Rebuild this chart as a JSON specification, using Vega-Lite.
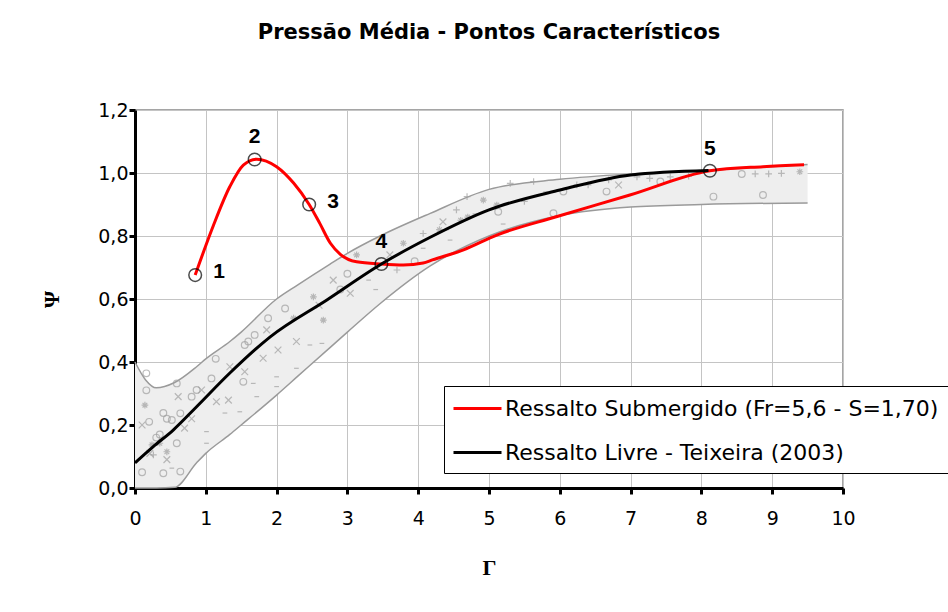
{
  "$schema": "https://vega.github.io/schema/vega-lite/v6.json",
  "width": 708,
  "height": 378,
  "autosize": {"type": "none"},
  "padding": {"left": 135, "top": 110, "right": 105, "bottom": 124},
  "background": "white",
  "title": {
    "text": "Pressão Média - Pontos Característicos",
    "font": "DejaVu Sans",
    "fontSize": 21,
    "fontWeight": "bold",
    "color": "black",
    "frame": "group",
    "anchor": "middle",
    "offset": 58
  },
  "config": {
    "view": {"stroke": "#888888", "strokeWidth": 1.5},
    "axis": {
      "domainColor": "black",
      "domainWidth": 3,
      "tickColor": "black",
      "tickWidth": 3,
      "tickSize": 6,
      "gridColor": "#c4c4c4",
      "gridWidth": 1,
      "labelFont": "DejaVu Sans",
      "labelFontSize": 19,
      "labelColor": "black",
      "labelFlush": false,
      "labelOverlap": false,
      "titleFont": "Liberation Serif",
      "titleFontWeight": "bold",
      "titleFontSize": 22,
      "titleColor": "black"
    },
    "legend": {
      "orient": "none",
      "legendX": 309,
      "legendY": 276,
      "fillColor": "white",
      "strokeColor": "black",
      "padding": 9,
      "symbolType": "M-2,0H2",
      "symbolSize": 576,
      "symbolOffset": 11,
      "symbolStrokeWidth": 3,
      "symbolFillColor": "transparent",
      "labelFont": "DejaVu Sans",
      "labelFontSize": 22,
      "labelColor": "black",
      "labelOffset": 14,
      "labelLimit": 1000,
      "rowPadding": 19
    }
  },
  "datasets": {
    "band": [
      {"x": 0, "y": 0, "hi": 0.40},
      {"x": 0.15, "y": 0, "hi": 0.343},
      {"x": 0.3, "y": 0, "hi": 0.318},
      {"x": 0.56, "y": 0.002, "hi": 0.335},
      {"x": 0.87, "y": 0.08, "hi": 0.385},
      {"x": 1.0, "y": 0.11, "hi": 0.41},
      {"x": 1.34, "y": 0.17, "hi": 0.465},
      {"x": 1.5, "y": 0.2, "hi": 0.495},
      {"x": 2.0, "y": 0.295, "hi": 0.6},
      {"x": 2.3, "y": 0.355, "hi": 0.645},
      {"x": 2.75, "y": 0.445, "hi": 0.71},
      {"x": 3.0, "y": 0.495, "hi": 0.745},
      {"x": 3.46, "y": 0.585, "hi": 0.8},
      {"x": 4.17, "y": 0.705, "hi": 0.872},
      {"x": 5.0, "y": 0.8, "hi": 0.948},
      {"x": 6.0, "y": 0.865, "hi": 0.98},
      {"x": 7.0, "y": 0.892, "hi": 0.997},
      {"x": 8.0, "y": 0.9, "hi": 1.007},
      {"x": 9.5, "y": 0.905, "hi": 1.027}
    ],
    "lines": [
      {"serie": "Ressalto Submergido (Fr=5,6 - S=1,70)", "x": 0.85, "y": 0.676},
      {"serie": "Ressalto Submergido (Fr=5,6 - S=1,70)", "x": 1.11, "y": 0.835},
      {"serie": "Ressalto Submergido (Fr=5,6 - S=1,70)", "x": 1.34, "y": 0.957},
      {"serie": "Ressalto Submergido (Fr=5,6 - S=1,70)", "x": 1.53, "y": 1.025},
      {"serie": "Ressalto Submergido (Fr=5,6 - S=1,70)", "x": 1.72, "y": 1.044},
      {"serie": "Ressalto Submergido (Fr=5,6 - S=1,70)", "x": 2.0, "y": 1.02},
      {"serie": "Ressalto Submergido (Fr=5,6 - S=1,70)", "x": 2.24, "y": 0.968},
      {"serie": "Ressalto Submergido (Fr=5,6 - S=1,70)", "x": 2.46, "y": 0.9},
      {"serie": "Ressalto Submergido (Fr=5,6 - S=1,70)", "x": 2.61, "y": 0.84},
      {"serie": "Ressalto Submergido (Fr=5,6 - S=1,70)", "x": 2.76, "y": 0.777},
      {"serie": "Ressalto Submergido (Fr=5,6 - S=1,70)", "x": 2.9, "y": 0.742},
      {"serie": "Ressalto Submergido (Fr=5,6 - S=1,70)", "x": 3.13, "y": 0.718},
      {"serie": "Ressalto Submergido (Fr=5,6 - S=1,70)", "x": 3.48, "y": 0.711},
      {"serie": "Ressalto Submergido (Fr=5,6 - S=1,70)", "x": 3.79, "y": 0.708},
      {"serie": "Ressalto Submergido (Fr=5,6 - S=1,70)", "x": 4.07, "y": 0.714},
      {"serie": "Ressalto Submergido (Fr=5,6 - S=1,70)", "x": 4.2, "y": 0.724},
      {"serie": "Ressalto Submergido (Fr=5,6 - S=1,70)", "x": 4.64, "y": 0.756},
      {"serie": "Ressalto Submergido (Fr=5,6 - S=1,70)", "x": 5.11, "y": 0.803},
      {"serie": "Ressalto Submergido (Fr=5,6 - S=1,70)", "x": 5.95, "y": 0.861},
      {"serie": "Ressalto Submergido (Fr=5,6 - S=1,70)", "x": 6.99, "y": 0.93},
      {"serie": "Ressalto Submergido (Fr=5,6 - S=1,70)", "x": 8.12, "y": 1.007},
      {"serie": "Ressalto Submergido (Fr=5,6 - S=1,70)", "x": 8.87, "y": 1.02},
      {"serie": "Ressalto Submergido (Fr=5,6 - S=1,70)", "x": 9.45, "y": 1.026},
      {"serie": "Ressalto Livre - Teixeira (2003)", "x": 0, "y": 0.08},
      {"serie": "Ressalto Livre - Teixeira (2003)", "x": 0.25, "y": 0.13},
      {"serie": "Ressalto Livre - Teixeira (2003)", "x": 0.54, "y": 0.184},
      {"serie": "Ressalto Livre - Teixeira (2003)", "x": 0.87, "y": 0.258},
      {"serie": "Ressalto Livre - Teixeira (2003)", "x": 1.34, "y": 0.365},
      {"serie": "Ressalto Livre - Teixeira (2003)", "x": 1.91, "y": 0.48},
      {"serie": "Ressalto Livre - Teixeira (2003)", "x": 2.71, "y": 0.597},
      {"serie": "Ressalto Livre - Teixeira (2003)", "x": 3.48, "y": 0.711},
      {"serie": "Ressalto Livre - Teixeira (2003)", "x": 4.17, "y": 0.796},
      {"serie": "Ressalto Livre - Teixeira (2003)", "x": 5.0, "y": 0.883},
      {"serie": "Ressalto Livre - Teixeira (2003)", "x": 6.0, "y": 0.946},
      {"serie": "Ressalto Livre - Teixeira (2003)", "x": 7.0, "y": 0.994},
      {"serie": "Ressalto Livre - Teixeira (2003)", "x": 8.1, "y": 1.008}
    ],
    "pts": [
      {"label": "1", "x": 0.85, "y": 0.676},
      {"label": "2", "x": 1.69, "y": 1.043},
      {"label": "3", "x": 2.46, "y": 0.9},
      {"label": "4", "x": 3.48, "y": 0.711},
      {"label": "5", "x": 8.12, "y": 1.007}
    ],
    "scatter": [
      {"x": 0.16, "y": 0.364, "m": "o"}, {"x": 0.16, "y": 0.31, "m": "o"}, {"x": 0.14, "y": 0.263, "m": "*"},
      {"x": 0.59, "y": 0.332, "m": "o"}, {"x": 0.61, "y": 0.29, "m": "x"}, {"x": 0.4, "y": 0.238, "m": "o"},
      {"x": 0.45, "y": 0.22, "m": "o"}, {"x": 0.52, "y": 0.216, "m": "o"}, {"x": 0.64, "y": 0.237, "m": "o"},
      {"x": 0.8, "y": 0.29, "m": "o"}, {"x": 0.87, "y": 0.311, "m": "o"}, {"x": 0.94, "y": 0.311, "m": "x"},
      {"x": 1.08, "y": 0.348, "m": "o"}, {"x": 1.14, "y": 0.41, "m": "o"}, {"x": 1.15, "y": 0.274, "m": "x"},
      {"x": 1.32, "y": 0.279, "m": "x"}, {"x": 1.34, "y": 0.385, "m": "x"}, {"x": 1.53, "y": 0.337, "m": "o"},
      {"x": 1.55, "y": 0.369, "m": "x"}, {"x": 1.55, "y": 0.454, "m": "o"}, {"x": 1.6, "y": 0.465, "m": "o"},
      {"x": 1.69, "y": 0.486, "m": "o"}, {"x": 1.81, "y": 0.412, "m": "x"}, {"x": 1.86, "y": 0.502, "m": "x"},
      {"x": 1.88, "y": 0.539, "m": "o"}, {"x": 2.24, "y": 0.539, "m": "*"}, {"x": 2.12, "y": 0.57, "m": "o"},
      {"x": 2.02, "y": 0.438, "m": "x"}, {"x": 2.28, "y": 0.465, "m": "x"}, {"x": 1.67, "y": 0.332, "m": "-"},
      {"x": 1.72, "y": 0.29, "m": "-"}, {"x": 1.27, "y": 0.238, "m": "-"}, {"x": 1.48, "y": 0.242, "m": "-"},
      {"x": 1.01, "y": 0.179, "m": "-"}, {"x": 1.01, "y": 0.142, "m": "-"}, {"x": 2.0, "y": 0.353, "m": "-"},
      {"x": 2.0, "y": 0.322, "m": "-"}, {"x": 2.28, "y": 0.38, "m": "-"}, {"x": 2.47, "y": 0.454, "m": "-"},
      {"x": 2.64, "y": 0.459, "m": "-"}, {"x": 2.52, "y": 0.607, "m": "*"}, {"x": 2.66, "y": 0.533, "m": "*"},
      {"x": 0.24, "y": 0.137, "m": "*"}, {"x": 0.35, "y": 0.142, "m": "*"}, {"x": 0.45, "y": 0.115, "m": "*"},
      {"x": 0.26, "y": 0.105, "m": "+"}, {"x": 0.4, "y": 0.047, "m": "o"}, {"x": 0.52, "y": 0.063, "m": "-"},
      {"x": 0.64, "y": 0.052, "m": "o"}, {"x": 0.59, "y": 0.142, "m": "o"}, {"x": 0.21, "y": 0.11, "m": "x"},
      {"x": 0.45, "y": 0.09, "m": "x"}, {"x": 0.35, "y": 0.17, "m": "o"}, {"x": 0.1, "y": 0.2, "m": "x"},
      {"x": 0.2, "y": 0.21, "m": "o"}, {"x": 0.7, "y": 0.19, "m": "x"}, {"x": 0.8, "y": 0.22, "m": "x"},
      {"x": 0.3, "y": 0.16, "m": "o"}, {"x": 0.1, "y": 0.05, "m": "o"},
      {"x": 2.8, "y": 0.66, "m": "x"}, {"x": 3.13, "y": 0.74, "m": "*"}, {"x": 3.04, "y": 0.618, "m": "x"},
      {"x": 3.7, "y": 0.692, "m": "+"}, {"x": 3.79, "y": 0.777, "m": "*"}, {"x": 4.07, "y": 0.808, "m": "+"},
      {"x": 4.07, "y": 0.761, "m": "-"}, {"x": 3.0, "y": 0.68, "m": "o"}, {"x": 2.9, "y": 0.63, "m": "o"},
      {"x": 3.3, "y": 0.66, "m": "-"}, {"x": 3.4, "y": 0.63, "m": "-"}, {"x": 3.6, "y": 0.74, "m": "x"},
      {"x": 2.6, "y": 0.58, "m": "x"}, {"x": 3.95, "y": 0.72, "m": "o"},
      {"x": 4.35, "y": 0.845, "m": "x"}, {"x": 4.54, "y": 0.883, "m": "+"}, {"x": 4.69, "y": 0.925, "m": "+"},
      {"x": 4.92, "y": 0.914, "m": "*"}, {"x": 5.11, "y": 0.898, "m": "*"}, {"x": 5.13, "y": 0.877, "m": "o"},
      {"x": 4.45, "y": 0.787, "m": "-"}, {"x": 5.2, "y": 0.838, "m": "-"}, {"x": 5.3, "y": 0.967, "m": "+"},
      {"x": 5.63, "y": 0.973, "m": "+"}, {"x": 6.05, "y": 0.941, "m": "o"}, {"x": 6.24, "y": 0.962, "m": "+"},
      {"x": 6.4, "y": 0.962, "m": "+"}, {"x": 6.66, "y": 0.941, "m": "o"}, {"x": 6.83, "y": 0.962, "m": "x"},
      {"x": 6.69, "y": 0.978, "m": "+"}, {"x": 7.09, "y": 0.988, "m": "+"}, {"x": 7.27, "y": 0.983, "m": "+"},
      {"x": 7.42, "y": 0.973, "m": "o"}, {"x": 7.56, "y": 0.988, "m": "+"}, {"x": 7.82, "y": 0.99, "m": "+"},
      {"x": 5.91, "y": 0.872, "m": "o"}, {"x": 8.17, "y": 0.925, "m": "o"}, {"x": 8.57, "y": 0.997, "m": "o"},
      {"x": 8.76, "y": 0.997, "m": "+"}, {"x": 8.95, "y": 0.997, "m": "+"}, {"x": 9.13, "y": 0.999, "m": "+"},
      {"x": 9.39, "y": 1.004, "m": "*"}, {"x": 8.87, "y": 0.93, "m": "o"}, {"x": 4.3, "y": 0.82, "m": "*"},
      {"x": 4.6, "y": 0.85, "m": "*"}, {"x": 4.8, "y": 0.87, "m": "-"}, {"x": 4.4, "y": 0.82, "m": "-"},
      {"x": 4.7, "y": 0.86, "m": "*"}, {"x": 5.5, "y": 0.91, "m": "+"}, {"x": 5.8, "y": 0.94, "m": "-"}
    ]
  },
  "encoding": {
    "x": {
      "field": "x",
      "type": "quantitative",
      "scale": {"domain": [0, 10], "nice": false, "zero": false},
      "axis": {
        "title": "Γ",
        "values": [0, 1, 2, 3, 4, 5, 6, 7, 8, 9, 10],
        "format": "d",
        "labelPadding": 15,
        "titlePadding": 29
      }
    },
    "y": {
      "field": "y",
      "type": "quantitative",
      "scale": {"domain": [0, 1.2], "nice": false, "zero": false},
      "axis": {
        "title": "Ψ",
        "values": [0, 0.2, 0.4, 0.6, 0.8, 1.0, 1.2],
        "labelExpr": "replace(format(datum.value, '.1f'), '.', ',')",
        "labelPadding": 1,
        "titlePadding": 34
      }
    }
  },
  "layer": [
    {
      "data": {"name": "band"},
      "mark": {"type": "area", "interpolate": "monotone", "fill": "#eeeeee", "stroke": null},
      "encoding": {"y2": {"field": "hi"}}
    },
    {
      "data": {"name": "band"},
      "transform": [{"fold": ["y", "hi"], "as": ["side", "y"]}],
      "mark": {"type": "line", "interpolate": "monotone", "stroke": "#9a9a9a", "strokeWidth": 1.5},
      "encoding": {"detail": {"field": "side"}}
    },
    {
      "data": {"name": "scatter"},
      "mark": {"type": "point", "filled": false, "color": "#a0a0a0", "size": 45, "strokeWidth": 1.2},
      "encoding": {
        "shape": {
          "field": "m",
          "type": "nominal",
          "legend": null,
          "scale": {
            "domain": ["o", "x", "*", "+", "-"],
            "range": [
              "circle",
              "M-1,-1L1,1M-1,1L1,-1",
              "M-1,0L1,0M0,-1L0,1M-0.7,-0.7L0.7,0.7M-0.7,0.7L0.7,-0.7",
              "M-1,0L1,0M0,-1L0,1",
              "M-0.7,0L0.7,0"
            ]
          }
        }
      }
    },
    {
      "data": {"name": "lines"},
      "mark": {"type": "line", "interpolate": "monotone", "strokeWidth": 3},
      "encoding": {
        "color": {
          "field": "serie",
          "type": "nominal",
          "title": null,
          "scale": {
            "domain": ["Ressalto Submergido (Fr=5,6 - S=1,70)", "Ressalto Livre - Teixeira (2003)"],
            "range": ["#ff0000", "#000000"]
          }
        }
      }
    },
    {
      "data": {"name": "pts"},
      "mark": {"type": "point", "filled": false, "color": "black", "size": 160, "strokeWidth": 1.5}
    },
    {
      "data": {"name": "pts"},
      "transform": [{"filter": "datum.label == '1' || datum.label == '3'"}],
      "mark": {"type": "text", "font": "Liberation Sans", "fontWeight": "bold", "fontSize": 21, "color": "black", "dx": 24, "dy": -3},
      "encoding": {"text": {"field": "label"}}
    },
    {
      "data": {"name": "pts"},
      "transform": [{"filter": "datum.label == '2' || datum.label == '4' || datum.label == '5'"}],
      "mark": {"type": "text", "font": "Liberation Sans", "fontWeight": "bold", "fontSize": 21, "color": "black", "dy": -22},
      "encoding": {"text": {"field": "label"}}
    }
  ]
}
